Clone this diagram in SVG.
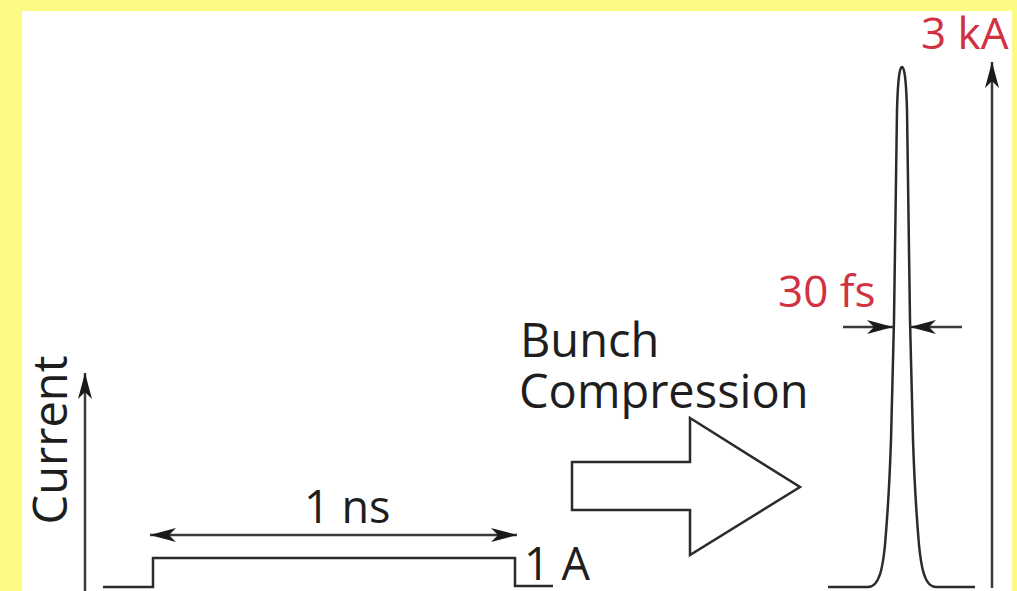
<svg xmlns="http://www.w3.org/2000/svg" width="1017" height="591" viewBox="0 0 1017 591">
  <style>
    .ln { fill: none; stroke: #2b2b2b; stroke-width: 2.5; stroke-linejoin: miter; }
    .ax { fill: none; stroke: #3a3a3a; stroke-width: 2.5; }
    .lbl { font-family: "Open Sans", "Noto Sans", "DejaVu Sans", sans-serif; font-size: 45px; fill: #1e1e1e; }
    .big { font-size: 47px; }
    .red { fill: #d2313f; font-size: 44px; }
  </style>
  <defs>
    <marker id="head" viewBox="-28 -8 30 16" markerUnits="userSpaceOnUse" markerWidth="30" markerHeight="16" refX="0" refY="0" orient="auto-start-reverse">
      <path d="M0,0 L-26,-7 L-19,0 L-26,7 Z" fill="#1a1a1a"/>
    </marker>
  </defs>

  <!-- background and panel -->
  <rect x="0" y="0" width="1017" height="591" fill="#fcfb84"/>
  <rect x="22" y="11" width="990" height="590" fill="#ffffff"/>

  <!-- long, low-current bunch -->
  <g id="long-bunch">
    <path class="ln" d="M103,587 H153 V558 H515 V586 H553"/>
    <text class="lbl" x="304" y="523">1 ns</text>
    <text class="lbl" x="524" y="580">1 A</text>
  </g>

  <!-- compression step -->
  <g id="compression">
    <polygon class="ln" points="572,462 690,462 690,418 800,487 690,555 690,510 572,510"/>
    <text class="lbl big" x="520" y="357">Bunch</text>
    <text class="lbl big" x="519" y="408">Compression</text>
  </g>

  <!-- short, high-current bunch -->
  <g id="short-bunch">
    <path class="ln" d="M828,587 L868,587 C880,587 883,565 885,545 C888,510 890,470 891,440 L894,320 L897,110 C898,75 900,67 902,67 C904,67 906,75 907,110 L910,320 L913,440 C914,470 916,510 919,545 C921,565 924,587 936,587 L975,587"/>
    <text class="lbl red" x="778" y="307">30 fs</text>
    <text class="lbl red" x="921" y="49">3 kA</text>
  </g>

  <!-- axis "Current" label -->
  <g id="current-label">
    <text class="lbl big" transform="translate(67,440) rotate(-90)" text-anchor="middle">Current</text>
  </g>

  <!-- axes and dimension arrows -->
  <g id="connectors">
    <line class="ax" x1="85" y1="591" x2="85" y2="373" marker-end="url(#head)"/>
    <line class="ax" x1="992" y1="588" x2="992" y2="62" marker-end="url(#head)"/>
    <line class="ax" x1="150" y1="535" x2="517" y2="535" marker-start="url(#head)" marker-end="url(#head)"/>
    <line class="ax" x1="843" y1="327" x2="893" y2="327" marker-end="url(#head)"/>
    <line class="ax" x1="962" y1="327" x2="910" y2="327" marker-end="url(#head)"/>
  </g>
</svg>
